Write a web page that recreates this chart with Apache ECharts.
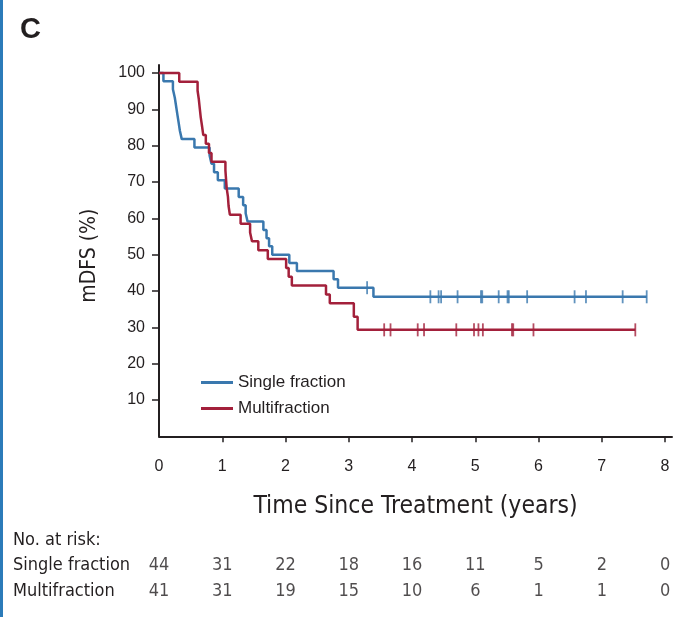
<!DOCTYPE html>
<html>
<head>
<meta charset="utf-8">
<script src="https://cdn.jsdelivr.net/npm/echarts@6/dist/echarts.min.js"></script>
<style>
html,body{margin:0;padding:0;background:#fff;}
#c{width:697px;height:617px;}
</style>
</head>
<body>
<div id="c"></div>
<script>
// ---- data ----
const singleTimes = [0,0.07,0.22,0.25,0.27,0.29,0.31,0.33,0.36,0.56,0.80,0.83,0.87,0.93,1.04,1.26,1.33,1.37,1.40,1.65,1.70,1.74,1.79,2.06,2.18,2.76,2.83,3.39,7.71];
const singleSurv  = [100,97.7,95.5,93.2,90.9,88.6,86.4,84.1,81.8,79.5,77.3,75.0,72.7,70.5,68.2,65.9,63.6,61.4,59.1,56.8,54.5,52.3,50.0,47.7,45.5,43.2,40.9,38.4,38.4];
const multiTimes  = [0,0.32,0.61,0.63,0.645,0.66,0.68,0.70,0.74,0.79,0.83,1.05,1.06,1.07,1.09,1.10,1.12,1.29,1.44,1.47,1.57,1.72,2.01,2.05,2.10,2.64,2.70,3.08,3.14,7.53];
const multiSurv   = [100,97.6,95.1,92.7,90.2,87.8,85.4,82.9,80.5,78.0,75.6,73.2,70.7,68.3,65.9,63.4,61.0,58.5,56.1,53.7,51.2,48.8,46.3,43.9,41.5,39.0,36.6,32.9,29.3,29.3];
const singleCensorTimes = [3.29,4.29,4.42,4.46,4.72,5.09,5.11,5.37,5.51,5.53,5.82,6.57,6.75,7.33,7.71];
const singleCensorSurv  = [40.9,38.4,38.4,38.4,38.4,38.4,38.4,38.4,38.4,38.4,38.4,38.4,38.4,38.4,38.4];
const multiCensorTimes  = [3.56,3.66,4.09,4.19,4.70,4.98,5.05,5.12,5.58,5.60,5.92,7.53];
const multiCensorSurv   = [29.3,29.3,29.3,29.3,29.3,29.3,29.3,29.3,29.3,29.3,29.3,29.3];
const riskTimes  = [0,1,2,3,4,5,6,7,8];
const riskSingle = [44,31,22,18,16,11,5,2,0];
const riskMulti  = [41,31,19,15,10,6,1,1,0];
const yTicks = [10,20,30,40,50,60,70,80,90,100];
const xTicks = [0,1,2,3,4,5,6,7,8];
const seriesNames = ['Single fraction','Multifraction'];

// ---- styles ----
const BLUE = '#3a78ae';
const RED = '#a3203b';
const INK = '#231f20';
const SANS = "'Liberation Sans', Arial, sans-serif";
const NARROW = "'Liberation Sans Narrow', 'DejaVu Sans Condensed', 'Liberation Sans', sans-serif";

const zip = (a, b) => a.map((v, i) => [v, b[i]]);
const riskData = [];
riskTimes.forEach((t, i) => {
  riskData.push([t, seriesNames[0], riskSingle[i]]);
  riskData.push([t, seriesNames[1], riskMulti[i]]);
});

const chart = echarts.init(document.getElementById('c'), null, {renderer: 'canvas'});
chart.setOption({
  animation: false,
  backgroundColor: '#fff',
  graphic: [{type: 'rect', left: 0, top: 0, shape: {width: 3, height: 617}, style: {fill: '#2b7bb9'}}],
  title: [
    {text: 'C', left: 15, top: 10, textStyle: {fontFamily: SANS, fontSize: 29, fontWeight: 'bold', color: INK}},
    {text: 'No. at risk:', left: 8, top: 526, textStyle: {fontFamily: NARROW, fontSize: 18, fontWeight: 'normal', color: INK}}
  ],
  legend: {
    data: seriesNames.map(n => ({name: n, icon: 'rect'})),
    orient: 'vertical',
    left: 196, top: 369,
    itemWidth: 32, itemHeight: 3, itemGap: 9,
    textStyle: {fontFamily: SANS, fontSize: 17, color: INK}
  },
  grid: [
    {left: 159, right: 25, top: 65, bottom: 180.7, containLabel: false},
    {left: 159, right: 25, top: 552, height: 52, containLabel: false}
  ],
  xAxis: [
    {
      type: 'value', gridIndex: 0, min: 0, max: 8.11,
      axisLine: {show: true, lineStyle: {color: INK, width: 2}},
      axisTick: {show: true, length: 6, lineStyle: {color: INK, width: 1.5}, customValues: xTicks.slice(1)},
      axisLabel: {customValues: xTicks, margin: 22, fontFamily: SANS, fontSize: 16, color: INK},
      splitLine: {show: false},
      name: 'Time Since Treatment (years)', nameLocation: 'middle', nameGap: 58,
      nameTextStyle: {fontFamily: NARROW, fontSize: 24.5, color: INK}
    },
    {type: 'value', gridIndex: 1, min: 0, max: 8.11, show: false}
  ],
  yAxis: [
    {
      type: 'value', gridIndex: 0, min: 0, max: 102.2,
      axisLine: {show: true, lineStyle: {color: INK, width: 2}},
      axisTick: {show: true, length: 7, lineStyle: {color: INK, width: 1.5}, customValues: yTicks},
      axisLabel: {customValues: yTicks, margin: 14, fontFamily: SANS, fontSize: 16, color: INK},
      splitLine: {show: false},
      name: 'mDFS (%)', nameLocation: 'middle', nameGap: 59,
      nameTextStyle: {fontFamily: NARROW, fontSize: 21, color: INK, padding: [0, 10, 0, 0]}
    },
    {
      type: 'category', gridIndex: 1, data: seriesNames, inverse: true,
      axisLine: {show: false}, axisTick: {show: false}, splitLine: {show: false},
      axisLabel: {interval: 0, align: 'left', margin: 146, fontFamily: NARROW, fontSize: 18, color: INK}
    }
  ],
  series: [
    {
      name: seriesNames[0], type: 'line', step: 'end', symbol: 'none',
      data: zip(singleTimes, singleSurv),
      lineStyle: {color: BLUE, width: 2.5}, itemStyle: {color: BLUE}, z: 3
    },
    {
      name: seriesNames[1], type: 'line', step: 'end', symbol: 'none',
      data: zip(multiTimes, multiSurv),
      lineStyle: {color: RED, width: 2.5}, itemStyle: {color: RED}, z: 3
    },
    {
      name: 'single-censor', type: 'scatter', symbol: 'rect', symbolSize: [1.8, 13],
      data: zip(singleCensorTimes, singleCensorSurv), itemStyle: {color: BLUE}, z: 4
    },
    {
      name: 'multi-censor', type: 'scatter', symbol: 'rect', symbolSize: [1.8, 13],
      data: zip(multiCensorTimes, multiCensorSurv), itemStyle: {color: RED}, z: 4
    },
    {
      name: 'at-risk', type: 'scatter', xAxisIndex: 1, yAxisIndex: 1,
      symbolSize: 1, itemStyle: {color: 'rgba(0,0,0,0)'},
      data: riskData,
      label: {show: true, position: 'inside', formatter: p => String(p.value[2]), fontFamily: NARROW, fontSize: 18, color: INK}
    }
  ]
});
</script>
</body>
</html>
